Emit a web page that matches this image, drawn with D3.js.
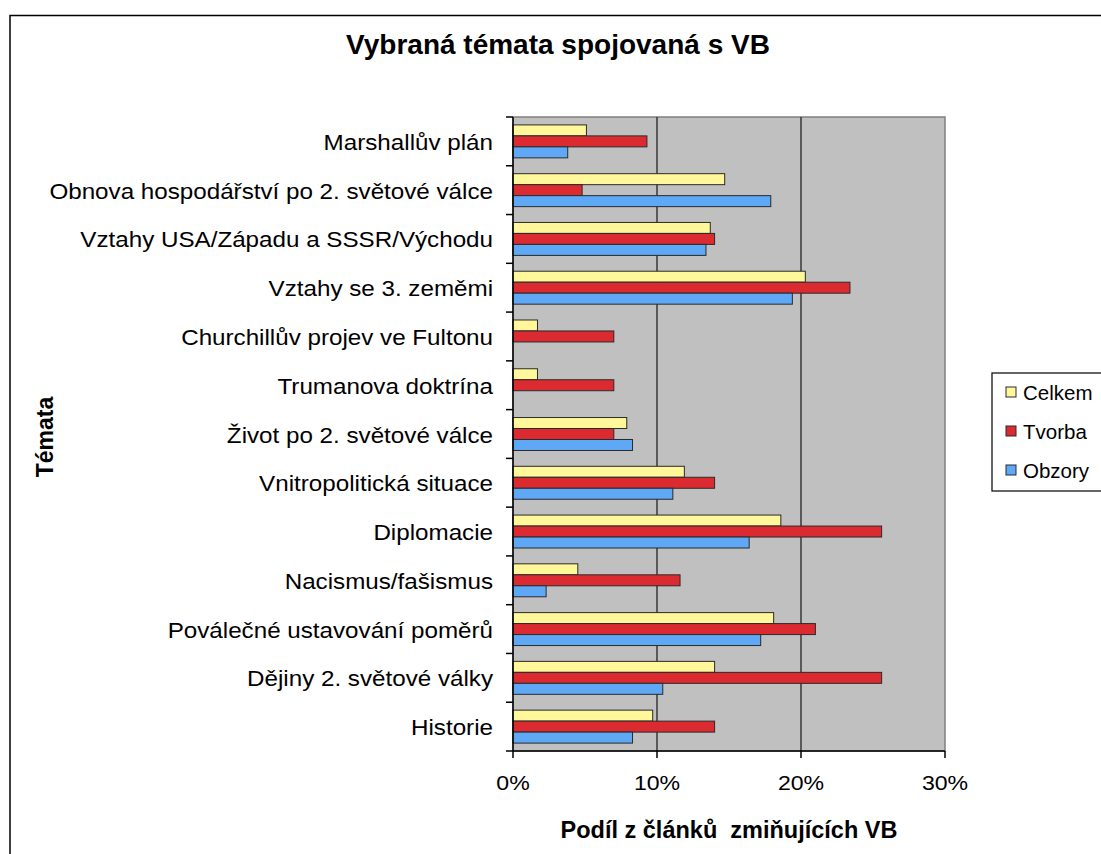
<!DOCTYPE html>
<html>
<head>
<meta charset="utf-8">
<script src="https://cdn.jsdelivr.net/npm/d3@7"></script>
<style>
  html, body { margin: 0; padding: 0; background: #fff; }
  svg { display: block; font-family: "Liberation Sans", Arial, sans-serif; }
</style>
</head>
<body>
<svg id="chart" width="1101" height="854"></svg>
<script>
const categories = [
  "Marshallův plán",
  "Obnova hospodářství po 2. světové válce",
  "Vztahy USA/Západu a SSSR/Východu",
  "Vztahy se 3. zeměmi",
  "Churchillův projev ve Fultonu",
  "Trumanova doktrína",
  "Život po 2. světové válce",
  "Vnitropolitická situace",
  "Diplomacie",
  "Nacismus/fašismus",
  "Poválečné ustavování poměrů",
  "Dějiny 2. světové války",
  "Historie"
];
const seriesNames = ["Celkem", "Tvorba", "Obzory"];
const celkem = [5.1, 14.7, 13.7, 20.3, 1.7, 1.7, 7.9, 11.9, 18.6, 4.5, 18.1, 14.0, 9.7];
const tvorba = [9.3, 4.8, 14.0, 23.4, 7.0, 7.0, 7.0, 14.0, 25.6, 11.6, 21.0, 25.6, 14.0];
const obzory = [3.8, 17.9, 13.4, 19.4, 0, 0, 8.3, 11.1, 16.4, 2.3, 17.2, 10.4, 8.3];
const xTicks = [0, 10, 20, 30];
const seriesColors = ["#FFF799", "#DC2B30", "#5FA8F6"];

const title = "Vybraná témata spojovaná s VB";
const xTitle = "Podíl z článků  zmiňujících VB";
const yTitle = "Témata";

const svg = d3.select("#chart");
const plot = { left: 513, right: 945, top: 117, bottom: 751 };

// outer frame
svg.append("rect").attr("x", 10).attr("y", 15.5).attr("width", 1200).attr("height", 1000)
  .attr("fill", "#fff").attr("stroke", "#000").attr("stroke-width", 1.5);

const x = d3.scaleLinear().domain([0, 30]).range([plot.left, plot.right]);
const y = d3.scaleBand().domain(categories).range([plot.top, plot.bottom]).paddingInner(0).paddingOuter(0);
const ySub = d3.scaleBand().domain(seriesNames).range([0, y.bandwidth()]).paddingInner(0).paddingOuter(0.72);

// plot area
svg.append("rect").attr("x", plot.left).attr("y", plot.top)
  .attr("width", plot.right - plot.left).attr("height", plot.bottom - plot.top)
  .attr("fill", "#C0C0C0").attr("stroke", "#808080").attr("stroke-width", 1.5);

// gridlines
svg.append("g").selectAll("line").data(xTicks.filter(t => t > 0 && t < 30)).join("line")
  .attr("x1", d => x(d)).attr("x2", d => x(d))
  .attr("y1", plot.top).attr("y2", plot.bottom)
  .attr("stroke", "#222").attr("stroke-width", 1.3);

// bars
const rows = categories.map((c, i) => ({ cat: c, vals: [celkem[i], tvorba[i], obzory[i]] }));
const groups = svg.append("g").selectAll("g").data(rows).join("g")
  .attr("transform", d => `translate(0,${y(d.cat)})`);
groups.selectAll("rect")
  .data(d => d.vals.map((v, j) => ({ v, s: seriesNames[j], j })).filter(e => e.v > 0))
  .join("rect")
  .attr("x", x(0))
  .attr("y", d => ySub(d.s))
  .attr("width", d => x(d.v) - x(0))
  .attr("height", ySub.bandwidth())
  .attr("fill", d => seriesColors[d.j])
  .attr("stroke", "#2a2a2a").attr("stroke-width", 1);

// y axis
const yAxisG = svg.append("g").attr("transform", `translate(${plot.left},0)`);
yAxisG.append("line").attr("x1", 0).attr("x2", 0).attr("y1", plot.top).attr("y2", plot.bottom)
  .attr("stroke", "#000").attr("stroke-width", 1.5);
const boundaries = categories.map(c => y(c)).concat([plot.bottom]);
yAxisG.selectAll("line.tick").data(boundaries).join("line").attr("class", "tick")
  .attr("x1", -7).attr("x2", 0).attr("y1", d => d).attr("y2", d => d)
  .attr("stroke", "#000").attr("stroke-width", 1.5);

// category labels
svg.append("g").selectAll("text").data(categories).join("text")
  .attr("transform", d => `translate(493,${y(d) + y.bandwidth() / 2 + 8.5}) scale(1.1,1)`)
  .attr("text-anchor", "end")
  .attr("font-size", 22)
  .attr("fill", "#000")
  .text(d => d);

// x axis
const xAxisG = svg.append("g").attr("transform", `translate(0,${plot.bottom})`);
xAxisG.append("line").attr("x1", plot.left).attr("x2", plot.right).attr("y1", 0).attr("y2", 0)
  .attr("stroke", "#000").attr("stroke-width", 1.5);
xAxisG.selectAll("line.tick").data(xTicks).join("line").attr("class", "tick")
  .attr("x1", d => x(d)).attr("x2", d => x(d)).attr("y1", 0).attr("y2", 7)
  .attr("stroke", "#000").attr("stroke-width", 1.5);
xAxisG.selectAll("text").data(xTicks).join("text")
  .attr("transform", d => `translate(${x(d)},${39}) scale(1.1,1)`)
  .attr("text-anchor", "middle")
  .attr("font-size", 21)
  .text(d => d + "%");

// titles
svg.append("text").attr("x", 558).attr("y", 54).attr("text-anchor", "middle")
  .attr("font-size", 28).attr("font-weight", "bold").text(title);
svg.append("text").attr("x", 729).attr("y", 838).attr("text-anchor", "middle")
  .attr("font-size", 23.5).attr("font-weight", "bold").style("white-space", "pre").text(xTitle);
svg.append("text").attr("transform", "translate(53,437) rotate(-90)").attr("text-anchor", "middle")
  .attr("font-size", 23).attr("font-weight", "bold").text(yTitle);

// legend
const legend = svg.append("g").attr("transform", "translate(992,373)");
legend.append("rect").attr("x", 0).attr("y", 0).attr("width", 200).attr("height", 118)
  .attr("fill", "#fff").attr("stroke", "#000").attr("stroke-width", 1.2);
const li = legend.selectAll("g").data(seriesNames).join("g")
  .attr("transform", (d, i) => `translate(0,${19 + i * 39})`);
li.append("rect").attr("x", 14).attr("y", -5).attr("width", 10).attr("height", 10)
  .attr("fill", (d, i) => seriesColors[i]).attr("stroke", "#2a2a2a").attr("stroke-width", 1);
li.append("text").attr("x", 31).attr("y", 7.5).attr("font-size", 20.5).text(d => d);
</script>
</body>
</html>
